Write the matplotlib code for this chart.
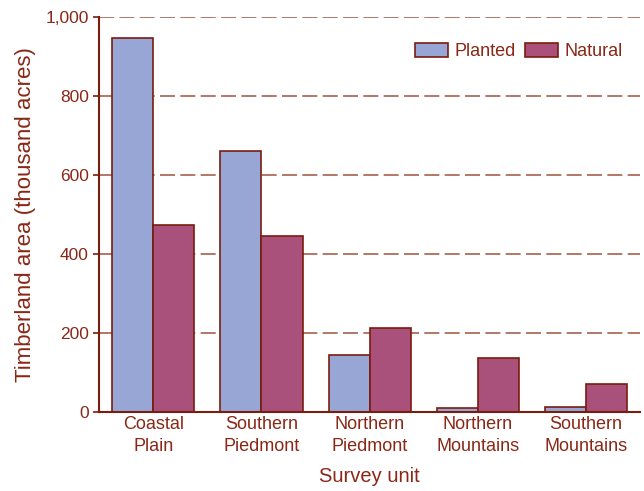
import matplotlib.pyplot as plt
import numpy as np

plt.rcParams['font.family'] = ['Liberation Sans', 'DejaVu Sans']

# timberland area by survey unit (thousand acres)
units = ['Coastal\nPlain', 'Southern\nPiedmont', 'Northern\nPiedmont',
         'Northern\nMountains', 'Southern\nMountains']
planted = [947, 661, 144, 11, 12]
natural = [473, 446, 213, 137, 71]

dark_red = '#7a1c0e'
text_red = '#8a2716'
grid_red = '#a8604e'

fig = plt.figure(figsize=(6.44, 4.91), dpi=100)
ax = fig.add_axes([0.154, 0.161, 0.84, 0.804])

x = np.arange(len(units))
w = 0.38
ax.bar(x - w / 2, planted, w, color='#97a6d4', edgecolor=dark_red, linewidth=1.2,
       label='Planted', zorder=3)
ax.bar(x + w / 2, natural, w, color='#a9517b', edgecolor=dark_red, linewidth=1.2,
       label='Natural', zorder=3)

ax.set_xlim(-0.5, 4.5)
ax.set_ylim(0, 1000)
ax.set_yticks([0, 200, 400, 600, 800, 1000])
ax.set_yticklabels(['0', '200', '400', '600', '800', '1,000'])
ax.set_xticks(x)
ax.set_xticklabels(units, linespacing=1.35)

for v in [200, 400, 600, 800, 1000]:
    ax.axhline(v, color=grid_red, linestyle=(0, (9, 3.2)), linewidth=1.2, zorder=1)

for s in ['top', 'right']:
    ax.spines[s].set_visible(False)
for s in ['left', 'bottom']:
    ax.spines[s].set_color(dark_red)
    ax.spines[s].set_linewidth(1.5)
    ax.spines[s].set_zorder(4)

ax.tick_params(axis='y', colors=dark_red, labelcolor=text_red, labelsize=12.5,
               length=4, width=1.2)
ax.tick_params(axis='x', length=0, labelcolor=text_red, labelsize=13, pad=3)

ax.set_xlabel('Survey unit', color=text_red, fontsize=14.5, labelpad=9)
ax.set_ylabel('Timberland area (thousand acres)', color=text_red, fontsize=16,
              labelpad=7)

leg = ax.legend(loc='upper right', bbox_to_anchor=(0.998, 0.975), ncol=2, frameon=False,
                fontsize=13, handlelength=1.85, handleheight=0.75,
                columnspacing=0.5, handletextpad=0.35)
for t in leg.get_texts():
    t.set_color(text_red)

fig.savefig('out.png', dpi=100)
